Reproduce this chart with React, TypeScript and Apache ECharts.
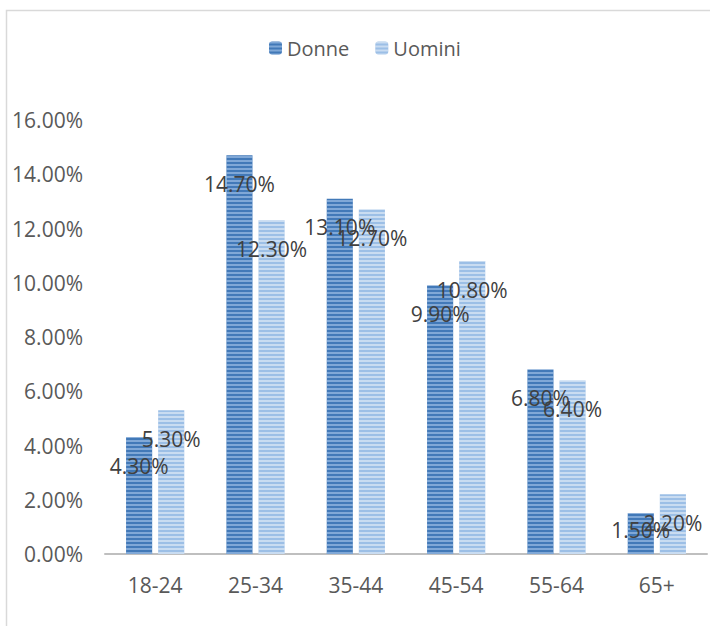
import React, { useEffect, useRef } from "react";
import * as echarts from "echarts";

const categories = ["18-24", "25-34", "35-44", "45-54", "55-64", "65+"];
const donne = [4.3, 14.7, 13.1, 9.9, 6.8, 1.5];
const uomini = [5.3, 12.3, 12.7, 10.8, 6.4, 2.2];
const seriesNames = ["Donne", "Uomini"];

const FONT = "'Open Sans', 'Noto Sans', sans-serif";

export default function App() {
  const ref = useRef<HTMLDivElement>(null);
  useEffect(() => {
    document.body.style.margin = "0";
    const chart = echarts.init(ref.current!, null, { renderer: "svg" });
    const labelFmt = (p: any) => Number(p.value).toFixed(2) + "%";
    const mkData = (arr: number[]) =>
      arr.map((v) =>
        v < 2
          ? { value: v, label: { distance: 6 } }
          : { value: v }
      );
    const label = {
      show: true,
      position: "insideTop",
      distance: 18,
      formatter: labelFmt,
      color: "#404040",
      fontSize: 21,
      fontFamily: FONT,
    };
    chart.setOption({
      animation: false,
      graphic: [
        {
          type: "rect",
          shape: { x: 6.5, y: 10.5, width: 800, height: 700 },
          style: { fill: "none", stroke: "#d9d9d9", lineWidth: 1.5 },
          silent: true,
        },
      ],
      legend: {
        data: seriesNames,
        left: 264,
        top: 33,
        itemWidth: 13,
        itemHeight: 13,
        itemGap: 26,
        textStyle: { fontSize: 20, color: "#595959", fontFamily: FONT },
      },
      grid: { left: 105, right: 3, top: 120, bottom: 72 },
      xAxis: {
        type: "category",
        data: categories,
        axisTick: { show: false },
        axisLine: { lineStyle: { color: "#bfbfbf", width: 2 } },
        axisLabel: {
          color: "#595959",
          fontSize: 21,
          fontFamily: FONT,
          margin: 20,
        },
      },
      yAxis: {
        type: "value",
        min: 0,
        max: 16,
        interval: 2,
        splitLine: { show: false },
        axisLine: { show: false },
        axisTick: { show: false },
        axisLabel: {
          color: "#595959",
          fontSize: 21,
          fontFamily: FONT,
          margin: 22,
          formatter: (v: number) => v.toFixed(2) + "%",
        },
      },
      series: [
        {
          name: seriesNames[0],
          type: "bar",
          data: mkData(donne),
          barGap: "23%",
          barCategoryGap: "42%",
          itemStyle: {
            color: "#4279b8",
            decal: {
              symbol: "rect",
              symbolSize: 1,
              dashArrayX: [1, 0],
              dashArrayY: [2, 2],
              rotation: 0,
              color: "rgba(190,215,245,0.5)",
            },
          },
          label,
        },
        {
          name: seriesNames[1],
          type: "bar",
          data: mkData(uomini),
          barGap: "23%",
          barCategoryGap: "42%",
          itemStyle: {
            color: "#9cbfe6",
            decal: {
              symbol: "rect",
              symbolSize: 1,
              dashArrayX: [1, 0],
              dashArrayY: [2, 2],
              rotation: 0,
              color: "rgba(255,255,255,0.45)",
            },
          },
          label,
        },
      ],
    });
    return () => chart.dispose();
  }, []);
  return (
    <div
      ref={ref}
      style={{ position: "fixed", left: 0, top: 0, width: 710, height: 626, background: "#fff" }}
    />
  );
}
